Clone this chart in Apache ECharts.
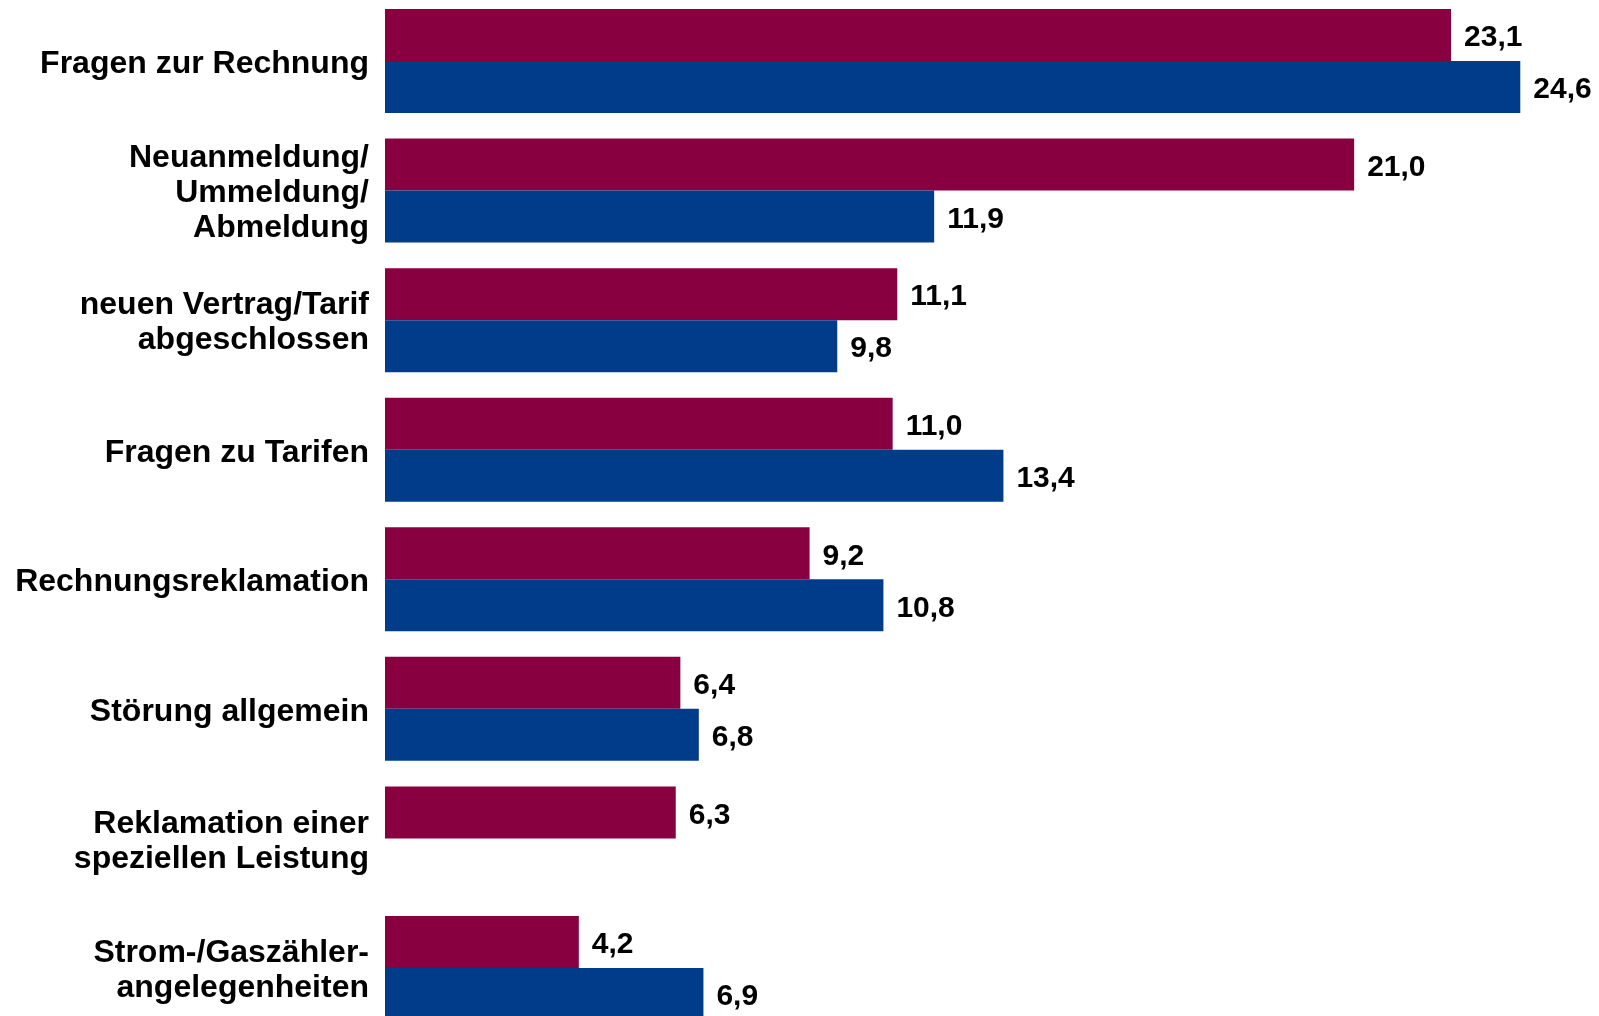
<!DOCTYPE html>
<html>
<head>
<meta charset="utf-8">
<script src="https://cdn.jsdelivr.net/npm/echarts@6/dist/echarts.min.js"></script>
<style>
  html, body { margin: 0; padding: 0; background: #fff; overflow: hidden; }
  body { width: 1599px; height: 1016px; position: relative; }
  /* the plot runs a little past the bottom edge of the page */
  #chart { position: absolute; left: 0; top: -4px; width: 1599px; height: 1040px; }
</style>
</head>
<body>
<div id="chart"></div>
<script>
// Contact reasons (percent), two survey waves
const categories = [
  'Fragen zur Rechnung',
  'Neuanmeldung/\nUmmeldung/\nAbmeldung',
  'neuen Vertrag/Tarif\nabgeschlossen',
  'Fragen zu Tarifen',
  'Rechnungsreklamation',
  'Störung allgemein',
  'Reklamation einer\nspeziellen Leistung',
  'Strom-/Gaszähler-\nangelegenheiten'
];
const valuesRed = [23.1, 21.0, 11.1, 11.0, 9.2, 6.4, 6.3, 4.2];
const valuesBlue = [24.6, 11.9, 9.8, 13.4, 10.8, 6.8, null, 6.9];

const FONT = '"Liberation Sans", Arial, Helvetica, sans-serif';
const fmt = (p) => p.value == null ? '' : p.value.toFixed(1).replace('.', ',');

const valueLabel = {
  show: true,
  position: 'right',
  distance: 13,
  offset: [0, 3],
  formatter: fmt,
  color: '#000',
  fontFamily: FONT,
  fontWeight: 'bold',
  fontSize: 30
};

const nameStyle = {
  color: '#000',
  fontFamily: FONT,
  fontWeight: 'bold',
  fontSize: 32,
  lineHeight: 35
};

const chart = echarts.init(document.getElementById('chart'), null, { renderer: 'canvas' });
chart.setOption({
  animation: false,
  backgroundColor: '#ffffff',
  grid: { left: 385, top: 0.2, width: 1153.75, height: 1036.6, containLabel: false },
  xAxis: {
    type: 'value',
    min: 0,
    max: 25,
    show: false
  },
  yAxis: {
    type: 'category',
    data: categories,
    inverse: true,
    axisLine: { show: false },
    axisTick: { show: false },
    splitLine: { show: false },
    axisLabel: Object.assign({
      margin: 16,
      padding: [6, 0, 0, 0],
      align: 'right',
      formatter: (v) => v.split('\n').map((line) => '{t|' + line + '}').join('\n'),
      rich: { t: Object.assign({}, nameStyle) }
    }, nameStyle)
  },
  series: [
    {
      type: 'bar',
      data: valuesRed,
      barWidth: 52,
      barGap: '0%',
      itemStyle: { color: '#880040' },
      label: valueLabel
    },
    {
      type: 'bar',
      data: valuesBlue,
      barWidth: 52,
      barGap: '0%',
      itemStyle: { color: '#003C89' },
      label: valueLabel
    }
  ]
});
</script>
</body>
</html>
